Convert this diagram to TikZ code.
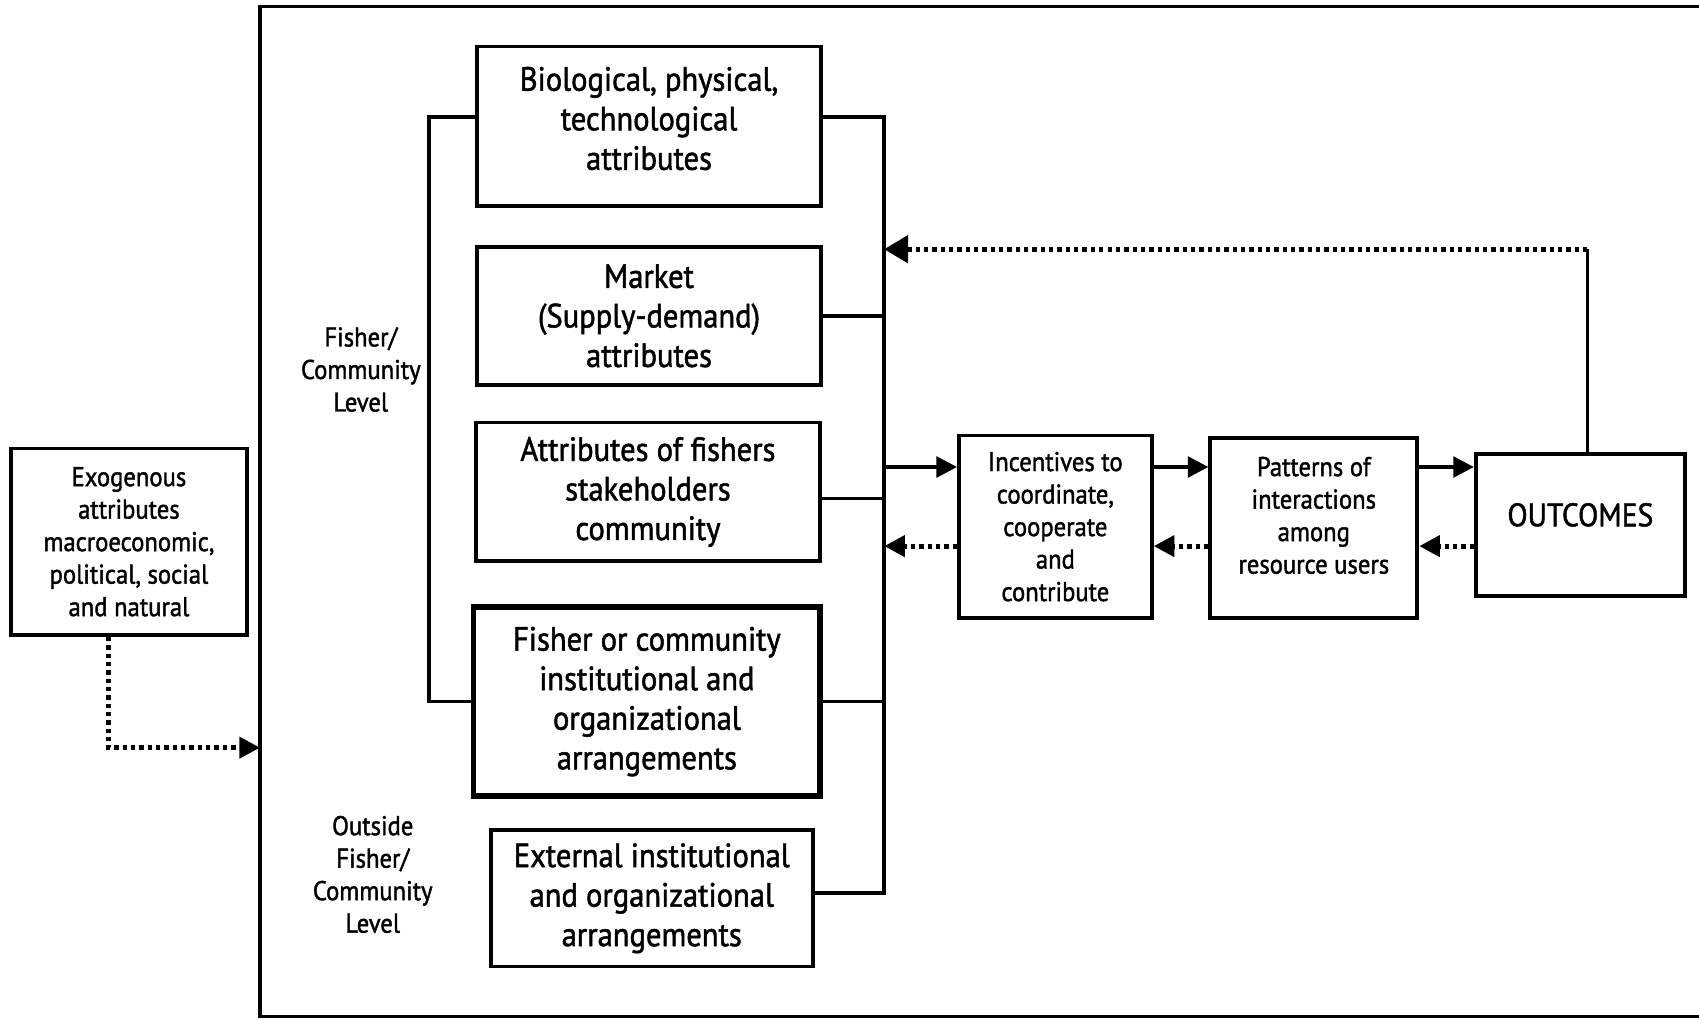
\documentclass[tikz,border=0pt]{standalone}
\usepackage{fontspec}
\setmainfont{PT Sans}[FakeStretch=0.91,FakeBold=1.5]
\usetikzlibrary{arrows.meta}
\tikzset{
  box/.style={draw, line width=3.5pt, align=center, inner sep=0pt},
  bigtxt/.style={font=\fontsize{31}{36.5}\selectfont},
  smalltxt/.style={font=\fontsize{25}{30}\selectfont},
  conn/.style={line width=3.5pt},
  arr/.style={line width=3.5pt, -{Triangle[length=19pt,width=19pt]}},
  darr/.style={line width=4.5pt, dash pattern=on 4pt off 3.7pt, -{Triangle[length=19pt,width=19pt]}},
  bigdarr/.style={line width=4.5pt, dash pattern=on 4pt off 3.7pt, -{Triangle[length=22pt,width=25pt]}},
}
\begin{document}
\begin{tikzpicture}[x=1pt,y=-1pt]
\useasboundingbox (0,0) rectangle (1568,941);
% frame
\coordinate (frTL) at (240,6);
\coordinate (frBL) at (240,938);
\draw[line width=3pt] (1568,6) -- (frTL) -- (frBL) -- (1568,938);

% boxes
\node[box, smalltxt, minimum width=218pt, minimum height=172pt] (exo) at (119,500)
  {Exogenous\\attributes\\macroeconomic,\\political, social\\and natural};
\node[box, bigtxt, minimum width=318pt, minimum height=147pt] (bio) at (599,116.5)
  {Biological, physical,\\technological\\attributes\\[-22pt]};
\node[box, bigtxt, minimum width=318pt, minimum height=127pt] (mkt) at (599,291.5)
  {Market\\(Supply-demand)\\attributes};
\node[box, bigtxt, minimum width=318pt, minimum height=128pt] (att) at (598,454)
  {Attributes of fishers\\stakeholders\\community};
\node[box, bigtxt, line width=5.5pt, minimum width=320pt, minimum height=175pt] (fis) at (597,647.5)
  {Fisher or community\\institutional and\\organizational\\arrangements};
\node[box, bigtxt, minimum width=297pt, minimum height=126pt] (ext) at (601.5,829)
  {External institutional\\and organizational\\arrangements};
\node[box, smalltxt, minimum width=178pt, minimum height=168pt] (inc) at (974,486)
  {Incentives to\\coordinate,\\cooperate\\and\\contribute};
\node[box, smalltxt, minimum width=191pt, minimum height=166pt] (pat) at (1212.5,487)
  {Patterns of\\interactions\\among\\resource users\\[-7pt]};
\node[box, font=\fontsize{30}{30}\selectfont, minimum width=193pt, minimum height=131pt] (out) at (1458.5,484.5)
  {OUTCOMES\\[-11pt]};

% labels
\node[smalltxt, align=center] (lvl1) at (333,341) {Fisher/\\Community\\Level};
\node[smalltxt, align=center] (lvl2) at (344,807) {Outside\\Fisher/\\Community\\Level};

% left bracket
\draw[conn] ([yshift=8.5pt]bio.west) -- ++(-42,0) |- (fis.west);

% right bus
\coordinate (busT) at (816,108);
\coordinate (busB) at (816,824);
\draw[conn] ([yshift=8.5pt]bio.east) -- (busT) -- (busB) -- ([yshift=5pt]ext.east);
\draw[conn] (mkt.east) -- (mkt.east -| busT);
\draw[conn] ([yshift=-6pt]att.east) -- ([yshift=-6pt]att.east -| busT);
\draw[conn] (fis.east) -- (fis.east -| busT);

% forward and back arrows
\coordinate (fw) at (816,431);
\coordinate (bk) at (816,504);
\draw[arr] (fw) -- (fw -| inc.west);
\draw[arr] (fw -| inc.east) -- (fw -| pat.west);
\draw[arr] (fw -| pat.east) -- (fw -| out.west);
\draw[darr] (bk -| inc.west) -- (bk);
\draw[darr] (bk -| pat.west) -- (bk -| inc.east);
\draw[darr] (bk -| out.west) -- (bk -| pat.east);

% feedback
\coordinate (fb) at (1465,230);
\draw[conn] (fb |- out.north) -- (fb);
\draw[bigdarr] (fb) -- (fb -| busT);

% exogenous arrow
\coordinate (ex) at (100,690);
\draw[darr] (ex |- exo.south) -- (ex) -- (ex -| frBL);
\end{tikzpicture}
\end{document}
